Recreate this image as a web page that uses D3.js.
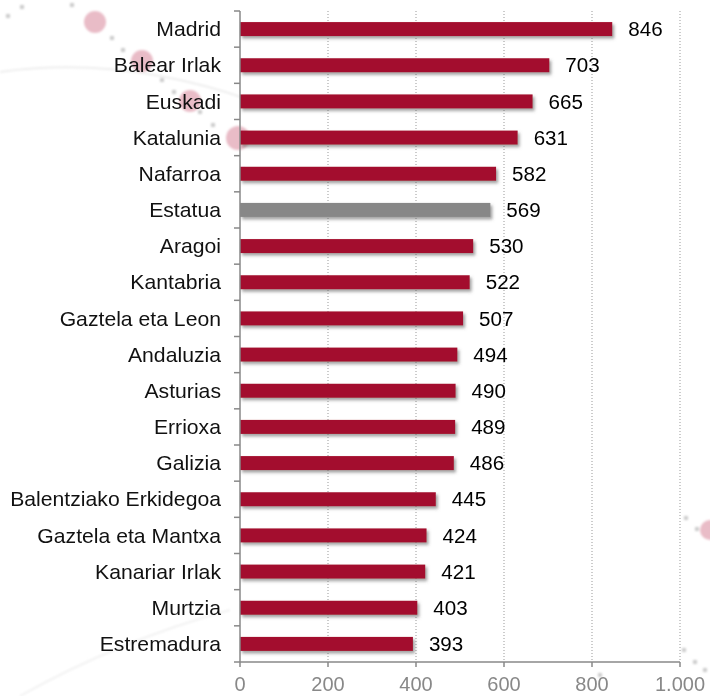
<!DOCTYPE html>
<html><head><meta charset="utf-8">
<script src="https://cdn.jsdelivr.net/npm/d3@7"></script>
<style>
body{margin:0;background:#fff;}
text{font-family:"Liberation Sans",Arial,sans-serif;}
</style></head>
<body><svg id="c" width="710" height="696"></svg>
<script>
const categories = ["Madrid","Balear Irlak","Euskadi","Katalunia","Nafarroa","Estatua","Aragoi","Kantabria","Gaztela eta Leon","Andaluzia","Asturias","Errioxa","Galizia","Balentziako Erkidegoa","Gaztela eta Mantxa","Kanariar Irlak","Murtzia","Estremadura"];
const values = [846,703,665,631,582,569,530,522,507,494,490,489,486,445,424,421,403,393];
const highlight = ["Estatua"];
const xTicks = [0,200,400,600,800,1000];
const xTickLabels = ["0","200","400","600","800","1.000"];

(function(){
const svg = d3.select("#c");
const mL = 240, mR = 680, mT = 11, mB = 662;
const x = d3.scaleLinear().domain([0,1000]).range([mL,mR]);
const y = d3.scaleBand().domain(categories).range([mT,mB]).paddingInner(0).paddingOuter(0);
const barH = 14;

const defs = svg.append("defs");
const f = defs.append("filter").attr("id","sh").attr("x","-5%").attr("y","-50%").attr("width","115%").attr("height","250%");
f.append("feDropShadow").attr("dx",2).attr("dy",2.5).attr("stdDeviation",1.5).attr("flood-color","#555").attr("flood-opacity",0.55);
const bl = defs.append("filter").attr("id","bl");
bl.append("feGaussianBlur").attr("stdDeviation",1);

// faint background decoration
const deco = svg.append("g").attr("filter","url(#bl)");
deco.append("path").attr("d","M0,72 Q120,55 250,100").attr("fill","none").attr("stroke","#eee").attr("stroke-width",2);
deco.append("path").attr("d","M20,696 Q120,640 230,610").attr("fill","none").attr("stroke","#f2f2f2").attr("stroke-width",2);
[[95,22,11],[142,61,11],[190,101,11],[238,138,12],[710,530,10]].forEach(c=>{
  deco.append("circle").attr("cx",c[0]).attr("cy",c[1]).attr("r",c[2]).attr("fill","#e2a5b4").attr("opacity",0.75);
});
[[8,16],[22,7],[72,5],[112,38],[123,50],[162,80],[174,92],[200,112],[213,125],[686,518],[697,529],[684,650],[695,662],[705,670],[600,675]].forEach(p=>{
  deco.append("rect").attr("x",p[0]-2).attr("y",p[1]-2).attr("width",4).attr("height",4).attr("fill","#aaa").attr("opacity",0.6);
});

// gridlines
svg.append("g").selectAll("line").data(xTicks.slice(1)).join("line")
  .attr("x1",d=>x(d)).attr("x2",d=>x(d)).attr("y1",mT).attr("y2",mB)
  .attr("stroke","#999").attr("stroke-width",1).attr("stroke-dasharray","1,2");

// bars
svg.append("g").selectAll("rect").data(categories).join("rect")
  .attr("x",x(0)).attr("y",d=>y(d)+y.bandwidth()/2-barH/2)
  .attr("width",(d,i)=>x(values[i])-x(0)).attr("height",barH)
  .attr("fill",d=>highlight.includes(d)?"#878787":"#A30D2E")
  .attr("filter","url(#sh)");

// value labels
svg.append("g").selectAll("text").data(categories).join("text")
  .attr("transform",(d,i)=>`translate(${x(values[i])+16},${y(d)+y.bandwidth()/2}) scale(1.03,1)`)
  .attr("dy","0.36em").attr("font-size",20).attr("fill","#000")
  .text((d,i)=>values[i]);

// y axis
const yAxis = svg.append("g");
yAxis.append("line").attr("x1",mL).attr("x2",mL).attr("y1",mT).attr("y2",mB).attr("stroke","#888").attr("stroke-width",1.5);
const bounds = categories.map(c=>y(c)).concat([mB]);
yAxis.selectAll("line.t").data(bounds).join("line").attr("class","t")
  .attr("x1",mL-6).attr("x2",mL).attr("y1",d=>d).attr("y2",d=>d).attr("stroke","#888").attr("stroke-width",1.5);
yAxis.selectAll("text").data(categories).join("text")
  .attr("transform",d=>`translate(${mL-19},${y(d)+y.bandwidth()/2}) scale(1.06,1)`)
  .attr("dy","0.36em")
  .attr("text-anchor","end").attr("font-size",20).attr("fill","#111").text(d=>d);

// x axis
const xAxis = svg.append("g");
xAxis.append("line").attr("x1",mL).attr("x2",mR).attr("y1",mB).attr("y2",mB).attr("stroke","#888").attr("stroke-width",1.5);
xAxis.selectAll("line.t").data(xTicks).join("line").attr("class","t")
  .attr("x1",d=>x(d)).attr("x2",d=>x(d)).attr("y1",mB).attr("y2",mB+5).attr("stroke","#888").attr("stroke-width",1.5);
xAxis.selectAll("text").data(xTicks).join("text")
  .attr("x",d=>x(d)).attr("y",691)
  .attr("text-anchor","middle").attr("font-size",20).attr("fill","#888")
  .text((d,i)=>xTickLabels[i]);
})();
</script></body></html>
